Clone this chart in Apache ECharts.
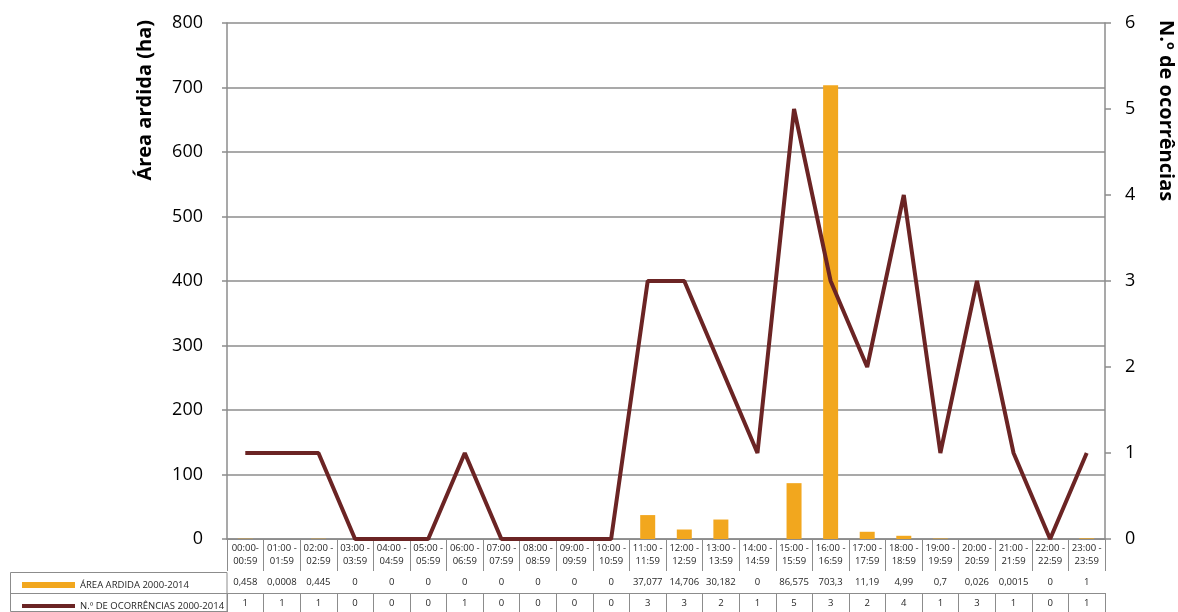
<!DOCTYPE html>
<html>
<head>
<meta charset="utf-8">
<script src="https://cdn.jsdelivr.net/npm/echarts@6/dist/echarts.min.js"></script>
<style>
    html, body { margin: 0; padding: 0; background: #fff; }
    #chart { width: 1178px; height: 612px; }
</style>
</head>
<body>
<div id="chart"></div>
<script>
// 数据
const hours = [
    '00:00-\n00:59', '01:00 -\n01:59', '02:00 -\n02:59', '03:00 -\n03:59',
    '04:00 -\n04:59', '05:00 -\n05:59', '06:00 -\n06:59', '07:00 -\n07:59',
    '08:00 -\n08:59', '09:00 -\n09:59', '10:00 -\n10:59', '11:00 -\n11:59',
    '12:00 -\n12:59', '13:00 -\n13:59', '14:00 -\n14:59', '15:00 -\n15:59',
    '16:00 -\n16:59', '17:00 -\n17:59', '18:00 -\n18:59', '19:00 -\n19:59',
    '20:00 -\n20:59', '21:00 -\n21:59', '22:00 -\n22:59', '23:00 -\n23:59'
];
const areaArdida = [0.458, 0.0008, 0.445, 0, 0, 0, 0, 0, 0, 0, 0, 37.077, 14.706, 30.182, 0, 86.575, 703.3, 11.19, 4.99, 0.7, 0.026, 0.0015, 0, 1];
const ocorrencias = [1, 1, 1, 0, 0, 0, 1, 0, 0, 0, 0, 3, 3, 2, 1, 5, 3, 2, 4, 1, 3, 1, 0, 1];
const leftTicks = [0, 800, 100];
const rightTicks = [0, 6, 1];

const areaName = 'ÁREA ARDIDA 2000-2014';
const ocorrName = 'N.º DE OCORRÊNCIAS 2000-2014';

const FONT = '"Open Sans", "Noto Sans", sans-serif';
const GRID_COLOR = '#8c8c8c';
const BAR_COLOR = '#f2a71e';
const LINE_COLOR = '#6b2424';

// 表格行用的文本（逗号作小数点）
const areaLabels = areaArdida.map(v => String(v).replace('.', ','));
const ocorrLabels = ocorrencias.map(v => String(v));

function initChart() {
    const chart = echarts.init(document.getElementById('chart'));

    const tableAxis = (data, offset, len) => ({
        type: 'category',
        position: 'bottom',
        offset: offset,
        data: data,
        boundaryGap: true,
        axisLine: { show: true, lineStyle: { color: GRID_COLOR, width: 1 } },
        axisTick: { show: true, interval: 0, length: len, lineStyle: { color: GRID_COLOR, width: 1 } },
        axisLabel: {
            interval: 0,
            margin: 5,
            color: '#262626',
            fontFamily: FONT,
            fontSize: 9.5
        },
        splitLine: { show: false }
    });

    const legendRow = (name, top, color) => ({
        orient: 'horizontal',
        left: 17,
        top: top,
        itemWidth: 53,
        itemHeight: name === areaName ? 6 : 4,
        itemGap: 0,
        selectedMode: false,
        textStyle: { color: '#262626', fontFamily: FONT, fontSize: 9.5 },
        data: [{ name: name, icon: 'rect', itemStyle: { color: color } }]
    });

    const option = {
        animation: false,
        backgroundColor: '#fff',
        grid: {
            top: 23,
            left: 227,
            right: 73,
            bottom: 73,
            containLabel: false
        },
        legend: [
            legendRow(areaName, 575, BAR_COLOR),
            legendRow(ocorrName, 596, LINE_COLOR)
        ],
        xAxis: [
            {
                type: 'category',
                position: 'bottom',
                data: hours,
                boundaryGap: true,
                axisLine: { show: true, lineStyle: { color: GRID_COLOR, width: 1.5 } },
                axisTick: { show: true, interval: 0, length: 32, lineStyle: { color: GRID_COLOR, width: 1 } },
                axisLabel: {
                    interval: 0,
                    margin: 3,
                    color: '#262626',
                    fontFamily: FONT,
                    fontSize: 9.5,
                    lineHeight: 13
                }
            },
            tableAxis(areaLabels, 33, 21),
            tableAxis(ocorrLabels, 54, 21)
        ],
        yAxis: [
            {
                type: 'value',
                min: leftTicks[0],
                max: leftTicks[1],
                interval: leftTicks[2],
                axisLine: { show: true, lineStyle: { color: GRID_COLOR, width: 1.5 } },
                axisTick: { show: true, length: 5, lineStyle: { color: GRID_COLOR, width: 1.5 } },
                axisLabel: { color: '#000', fontFamily: FONT, fontSize: 18, margin: 24 },
                splitLine: { show: true, lineStyle: { color: GRID_COLOR, width: 1.5 } }
            },
            {
                type: 'value',
                position: 'right',
                min: rightTicks[0],
                max: rightTicks[1],
                interval: rightTicks[2],
                axisLine: { show: true, lineStyle: { color: GRID_COLOR, width: 1.5 } },
                axisTick: { show: true, length: 6, lineStyle: { color: GRID_COLOR, width: 1.5 } },
                axisLabel: { color: '#000', fontFamily: FONT, fontSize: 18, margin: 20 },
                splitLine: { show: false }
            }
        ],
        series: [
            {
                name: areaName,
                type: 'bar',
                xAxisIndex: 0,
                yAxisIndex: 0,
                data: areaArdida,
                barWidth: '41%',
                itemStyle: { color: BAR_COLOR }
            },
            {
                name: ocorrName,
                type: 'line',
                xAxisIndex: 0,
                yAxisIndex: 1,
                data: ocorrencias,
                symbol: 'none',
                lineStyle: { color: LINE_COLOR, width: 4 },
                itemStyle: { color: LINE_COLOR },
                z: 3
            }
        ],
        graphic: [
            // 坐标轴标题
            {
                type: 'text',
                x: 135,
                y: 20,
                rotation: Math.PI / 2,
                style: {
                    text: 'Área ardida (ha)',
                    fill: '#000',
                    font: 'bold 20px ' + FONT,
                    align: 'right',
                    verticalAlign: 'top'
                }
            },
            {
                type: 'text',
                x: 1176,
                y: 20,
                rotation: -Math.PI / 2,
                style: {
                    text: 'N.º de ocorrências',
                    fill: '#000',
                    font: 'bold 20px ' + FONT,
                    align: 'left',
                    verticalAlign: 'top'
                }
            },
            // 图例列的表格边框
            {
                type: 'rect',
                shape: { x: 10.5, y: 572.5, width: 216.5, height: 39 },
                style: { fill: 'none', stroke: GRID_COLOR, lineWidth: 1 }
            },
            {
                type: 'line',
                shape: { x1: 10.5, y1: 593.5, x2: 227, y2: 593.5 },
                style: { stroke: GRID_COLOR, lineWidth: 1 }
            }
        ]
    };
    chart.setOption(option);
}

document.addEventListener('DOMContentLoaded', initChart);
</script>
</body>
</html>
